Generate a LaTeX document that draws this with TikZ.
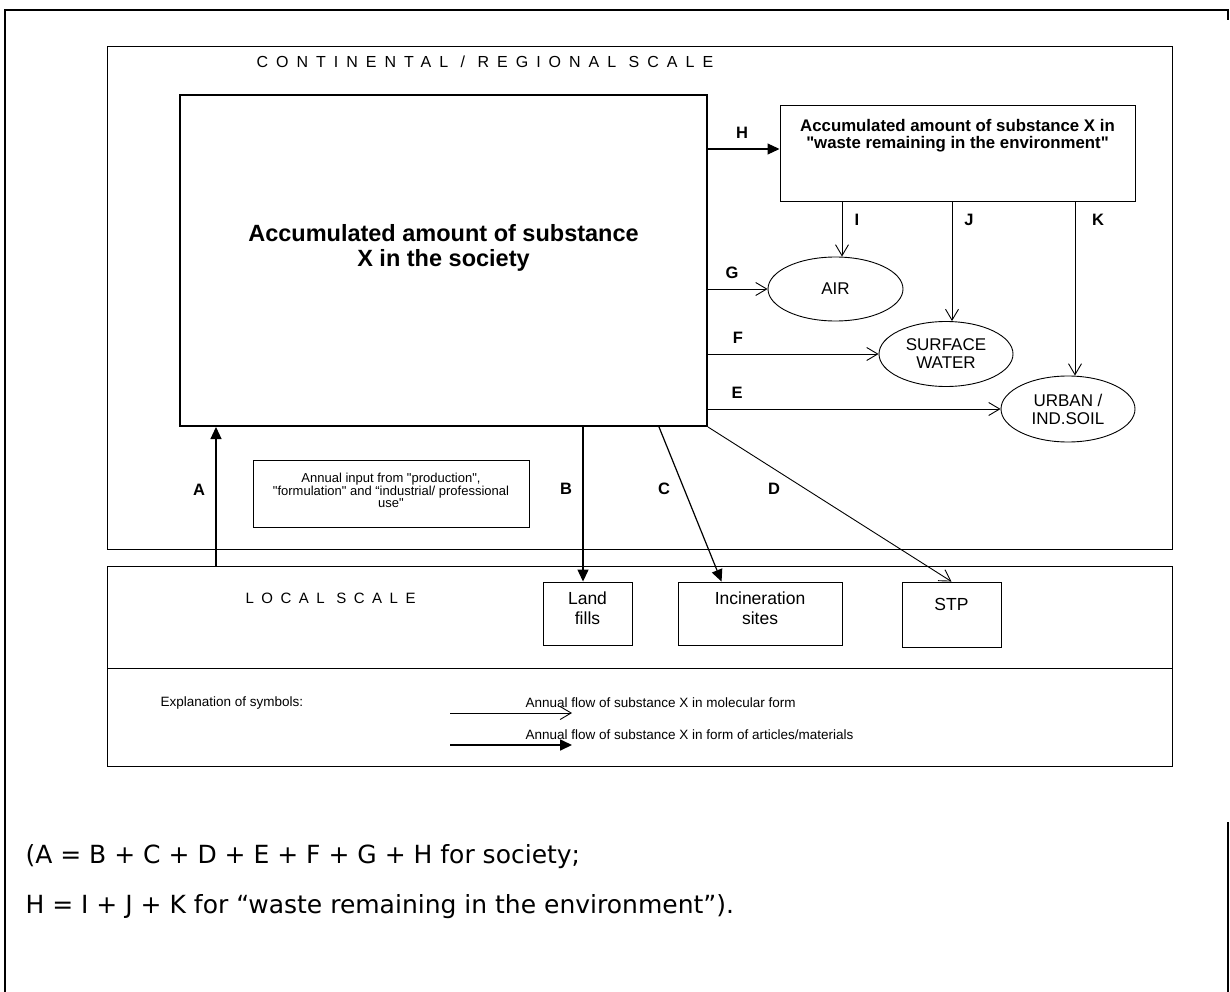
\documentclass[tikz,border=0pt]{standalone}
\usepackage{fontspec}
\setmainfont{Liberation Sans}
\newfontfamily\verdanafont{DejaVu Sans}
\newfontfamily\spacedfont[LetterSpace=50]{Liberation Sans}
\usetikzlibrary{shapes.geometric, arrows.meta, calc}

\begin{document}
\begin{tikzpicture}[x=1pt, y=-1pt,
        frame/.style={line width=1.8pt},
        region/.style={rectangle, draw, line width=1pt, inner sep=0pt},
        stock/.style={rectangle, draw, line width=2pt, inner sep=0pt},
        sink/.style={rectangle, draw, line width=0.9pt, inner sep=0pt, align=center, font=\fontsize{17.5}{20}\selectfont},
        medium/.style={ellipse, draw, line width=0.9pt, inner sep=0pt, align=center, font=\fontsize{17}{18}\selectfont},
        scaletitle/.style={anchor=west, font=\spacedfont\fontsize{16}{16}\selectfont},
        flowlbl/.style={font=\fontsize{16.5}{16.5}\bfseries\selectfont},
        legendtxt/.style={anchor=west, font=\fontsize{13.5}{13.5}\selectfont},
        molecular/.style={-{Straight Barb[length=11pt,width=13pt]}, line width=0.9pt},
        material/.style={-{Triangle[length=12pt,width=11pt]}, line width=1.2pt}
    ]
        \useasboundingbox (0,0) rectangle (1230,992);

        % Page frame
        \draw[frame] (5,992) -- (5,10) -- (1228,10) -- (1228,20);
        \draw[frame] (1228,822) -- (1228,992);

        % Continental / regional scale
        \node[region, minimum width=1065pt, minimum height=502pt] (regional) at (639.5,298) {};
        \node[scaletitle] (regtitle) at (253,62) {CONTINENTAL / REGIONAL SCALE};

        % Stocks
        \node[stock, minimum width=527pt, minimum height=331pt] (society) at (443.5,260.5) {};
        \node[font=\fontsize{23.5}{25.5}\bfseries\selectfont, align=center] (societytxt) at (443.5,248) {Accumulated amount of substance\\X in the society};

        \node[region, minimum width=355pt, minimum height=96pt] (waste) at (957.5,154) {};
        \node[font=\fontsize{16.8}{17}\bfseries\selectfont, align=center] (wastetxt) at (957.5,136) {Accumulated amount of substance X in\\\textquotedbl waste remaining in the environment\textquotedbl};

        % Environmental media
        \node[medium, minimum width=135pt, minimum height=64pt] (air) at (835.5,289) {AIR};
        \node[medium, minimum width=134pt, minimum height=65pt] (surface) at (946,354) {SURFACE\\WATER};
        \node[medium, minimum width=134pt, minimum height=66pt] (soil) at (1068,409) {URBAN /\\IND.SOIL};

        % Input note
        \node[rectangle, draw, line width=0.7pt, minimum width=276pt, minimum height=67pt, align=center, font=\fontsize{13}{12.5}\selectfont, text depth=6pt] (input) at (391,493.5) {Annual input from \textquotedbl production\textquotedbl,\\\textquotedbl formulation\textquotedbl{} and “industrial/ professional\\use\textquotedbl};

        % Local scale
        \node[region, minimum width=1065pt, minimum height=102pt] (local) at (639.5,617) {};
        \node[region, minimum width=1065pt, minimum height=98pt] (legend) at (639.5,717) {};
        \node[scaletitle, font=\spacedfont\fontsize{15}{15}\selectfont] (loctitle) at (242,598) {LOCAL SCALE};

        \node[sink, minimum width=89pt, minimum height=63pt, text depth=10pt] (landfill) at (587.5,613.5) {Land\\fills};
        \node[sink, minimum width=164pt, minimum height=63pt, text depth=10pt] (incin) at (760,613.5) {Incineration\\sites};
        \node[sink, minimum width=99pt, minimum height=65pt, text depth=20pt] (stp) at (951.5,614.5) {STP};

        % Legend
        \node[legendtxt] (explain) at (157,703) {Explanation of symbols:};
        \node[legendtxt] (moltxt) at (522,703) {Annual flow of substance X in molecular form};
        \node[legendtxt] (mattxt) at (522,735) {Annual flow of substance X in form of articles/materials};
        \coordinate (molA) at (450,713);
        \coordinate (molB) at (572,713);
        \coordinate (matA) at (450,745);
        \coordinate (matB) at (572,745);
        \draw[molecular] (molA) -- (molB);
        \draw[material, line width=1.7pt] (matA) -- (matB);

        % Flows from society to the environment
        \coordinate (hin) at ([yshift=5pt]waste.west);
        \draw[material] (hin -| society.east) -- (hin);
        \draw[molecular] (society.east |- air.west) -- (air.west);
        \draw[molecular] (society.east |- surface.west) -- (surface.west);
        \draw[molecular] (society.east |- soil.west) -- (soil.west);

        % Flows from waste remaining in the environment
        \coordinate (xi) at (842,0);
        \coordinate (xj) at (952,0);
        \coordinate (xk) at (1075,0);
        \draw[molecular] (waste.south -| xi) -- (air.north -| xi);
        \draw[molecular] (waste.south -| xj) -- (surface.north -| xj);
        \draw[molecular] (waste.south -| xk) -- (soil.north -| xk);

        % Flows between the scales
        \coordinate (xa) at (216,0);
        \coordinate (xb) at (583,0);
        \draw[material] (local.north -| xa) -- (society.south -| xa);
        \draw[material] (society.south -| xb) -- (landfill.north -| xb);
        \draw[material] ($(society.south east)+(-49,0)$) -- ($(incin.north west)+(44,0)$);
        \draw[molecular] (society.south east) -- (stp.north);

        % Flow labels
        \node[flowlbl] (lblH) at (742,133) {H};
        \node[flowlbl] (lblI) at (857,220) {I};
        \node[flowlbl] (lblJ) at (969,220) {J};
        \node[flowlbl] (lblK) at (1098,220) {K};
        \node[flowlbl] (lblG) at (732,273) {G};
        \node[flowlbl] (lblF) at (738,338) {F};
        \node[flowlbl] (lblE) at (737,393) {E};
        \node[flowlbl] (lblA) at (199,490) {A};
        \node[flowlbl] (lblB) at (566,489) {B};
        \node[flowlbl] (lblC) at (664,489) {C};
        \node[flowlbl] (lblD) at (774,489) {D};

        % Balance equations
        \node[anchor=west, font=\verdanafont\fontsize{25}{25}\selectfont] (eqsoc) at (22,857) {(A = B + C + D + E + F + G + H for society;};
        \node[anchor=west, font=\verdanafont\fontsize{25}{25}\selectfont] (eqwaste) at (22,907) {H = I + J + K for “waste remaining in the environment”).};
    \end{tikzpicture}
\end{document}
